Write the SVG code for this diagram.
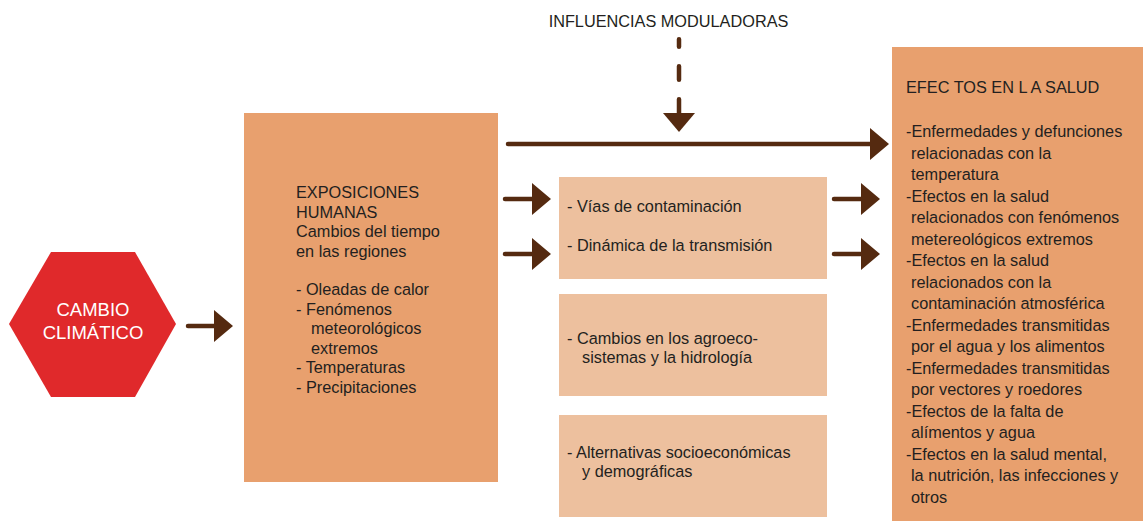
<svg xmlns="http://www.w3.org/2000/svg" width="1143" height="522" viewBox="0 0 1143 522">
<style>
text{font-family:"Liberation Sans",Arial,Helvetica,sans-serif;font-size:16.3px;fill:#231f20}
.hex text{fill:#ffffff;font-size:18.5px}
.box{fill:#e8a06e}
.sub{fill:#edc09e}
.conn{stroke:#552a10;stroke-width:4.5;stroke-linecap:round;fill:none}
</style>
<defs>
<marker id="ah" markerUnits="userSpaceOnUse" markerWidth="19" markerHeight="32" refX="0" refY="16" orient="auto" overflow="visible">
<path d="M0,0 L19,16 L0,32 Z" fill="#552a10"/>
</marker>
</defs>
<rect width="1143" height="522" fill="#ffffff"/>
<g id="cambio" class="hex">
<polygon points="9,324 51,252 135,252 176,324 135,397 51,397" fill="#e0292b"/>
<text x="93" y="316" text-anchor="middle">CAMBIO</text>
<text x="93" y="339" text-anchor="middle">CLIMÁTICO</text>
</g>
<g id="exposiciones">
<rect class="box" x="244" y="113" width="254" height="369"/>
<text x="296" y="198">EXPOSICIONES</text>
<text x="296" y="217.5">HUMANAS</text>
<text x="296" y="237">Cambios del tiempo</text>
<text x="296" y="256.5">en las regiones</text>
<text x="296" y="295">- Oleadas de calor</text>
<text x="296" y="314.5">- Fenómenos</text>
<text x="311" y="334">meteorológicos</text>
<text x="311" y="353.5">extremos</text>
<text x="296" y="373">- Temperaturas</text>
<text x="296" y="392.5">- Precipitaciones</text>
</g>
<g id="influencias">
<text x="668.5" y="27" text-anchor="middle">INFLUENCIAS MODULADORAS</text>
</g>
<g id="vias">
<rect class="sub" x="559" y="177" width="268" height="102"/>
<text x="567" y="212">- Vías de contaminación</text>
<text x="567" y="251">- Dinámica de la transmisión</text>
</g>
<g id="agroeco">
<rect class="sub" x="559" y="294" width="268" height="102"/>
<text x="567" y="344">- Cambios en los agroeco-</text>
<text x="582" y="363">sistemas y la hidrología</text>
</g>
<g id="alternativas">
<rect class="sub" x="559" y="415" width="268" height="102"/>
<text x="567" y="458">- Alternativas socioeconómicas</text>
<text x="582" y="477">y demográficas</text>
</g>
<g id="efectos">
<rect class="box" x="892" y="47" width="251" height="474"/>
<text x="906" y="93">EFEC TOS EN L A SALUD</text>
<text x="906" y="137">-Enfermedades y defunciones</text>
<text x="911" y="158.5">relacionadas con la</text>
<text x="911" y="180">temperatura</text>
<text x="906" y="201.5">-Efectos en la salud</text>
<text x="911" y="223">relacionados con fenómenos</text>
<text x="911" y="244.5">metereológicos extremos</text>
<text x="906" y="266">-Efectos en la salud</text>
<text x="911" y="287.5">relacionados con la</text>
<text x="911" y="309">contaminación atmosférica</text>
<text x="906" y="330.5">-Enfermedades transmitidas</text>
<text x="911" y="352">por el agua y los alimentos</text>
<text x="906" y="373.5">-Enfermedades transmitidas</text>
<text x="911" y="395">por vectores y roedores</text>
<text x="906" y="416.5">-Efectos de la falta de</text>
<text x="911" y="438">alímentos y agua</text>
<text x="906" y="459.5">-Efectos en la salud mental,</text>
<text x="911" y="481">la nutrición, las infecciones y</text>
<text x="911" y="502.5">otros</text>
</g>
<g id="connectors">
<line class="conn" x1="188" y1="326" x2="214" y2="326" marker-end="url(#ah)"/>
<line class="conn" x1="508" y1="144" x2="870" y2="144" marker-end="url(#ah)"/>
<line class="conn" x1="505" y1="199" x2="532" y2="199" marker-end="url(#ah)"/>
<line class="conn" x1="505" y1="254" x2="532" y2="254" marker-end="url(#ah)"/>
<line class="conn" x1="834" y1="199" x2="861" y2="199" marker-end="url(#ah)"/>
<line class="conn" x1="834" y1="254" x2="861" y2="254" marker-end="url(#ah)"/>
<path class="conn" d="M679,39.25 L679,113" stroke-dasharray="7.5 19.5 13.5 19.5 100" marker-end="url(#ah)"/>
</g>
</svg>
